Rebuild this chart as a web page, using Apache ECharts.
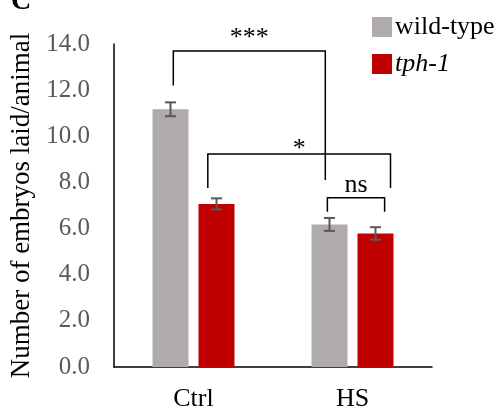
<!DOCTYPE html>
<html><head><meta charset="utf-8">
<script src="https://cdn.jsdelivr.net/npm/echarts@6/dist/echarts.min.js"></script>
<style>html,body{margin:0;padding:0;background:#fff}#c{width:500px;height:413px}</style>
</head><body><div id="c"></div>
<script>
const categories = ['Ctrl', 'HS'];
const seriesNames = ['wild-type', 'tph-1'];
const wildType = [11.17, 6.18];
const tph1 = [7.07, 5.79];
const wildTypeErr = [0.30, 0.28];
const tph1Err = [0.24, 0.27];
const yTicks = [0, 2, 4, 6, 8, 10, 12, 14];
// significance brackets (x in category units relative to 'Ctrl', y in data units)
const bracketLabels = ['***', '*', 'ns'];
const bracketX1 = [-0.127, 0.090, 0.842];
const bracketX2 = [0.829, 1.239, 1.202];
const bracketTop = [13.7, 9.23, 7.34];
const bracketLeftEnd = [12.2, 7.76, 6.73];
const bracketRightEnd = [8.1, 7.76, 6.73];
const bracketLabelY = [14.25, 9.45, 7.89];

const FONT = '"Liberation Serif","Times New Roman",serif';
const BAR_W = 36, BAR_GAP = 10;
const colors = ['#AFABAB', '#C00000'];

function errSeries(vals, errs, idx) {
  const off = (idx === 0 ? -1 : 1) * (BAR_W + BAR_GAP) / 2;
  return {
    type: 'custom', z: 5, silent: true,
    data: vals.map((v, i) => [i, v, errs[i]]),
    renderItem: function (params, api) {
      const i = api.value(0), v = api.value(1), e = api.value(2);
      const hi = api.coord([i, v + e]), lo = api.coord([i, v - e]);
      const x = hi[0] + off, cw = 5.5;
      const st = { stroke: '#595959', lineWidth: 2 };
      return { type: 'group', children: [
        { type: 'line', shape: { x1: x, y1: hi[1], x2: x, y2: lo[1] }, style: st },
        { type: 'line', shape: { x1: x - cw, y1: hi[1], x2: x + cw, y2: hi[1] }, style: st },
        { type: 'line', shape: { x1: x - cw, y1: lo[1], x2: x + cw, y2: lo[1] }, style: st }
      ]};
    }
  };
}

const bracketData = bracketLabels.map((l, i) => [i, bracketX1[i], bracketX2[i], bracketTop[i], bracketLeftEnd[i], bracketRightEnd[i], bracketLabelY[i]]);

const chart = echarts.init(document.getElementById('c'), null, { renderer: 'canvas' });
chart.setOption({
  animation: false,
  backgroundColor: '#fff',
  textStyle: { fontFamily: FONT },
  grid: { left: 110, right: 68, top: 44, bottom: 46 },
  legend: {
    orient: 'vertical', left: 367, top: 9, itemWidth: 20, itemHeight: 20, itemGap: 11,
    icon: 'rect',
    data: seriesNames,
    textStyle: { fontFamily: FONT, fontSize: 26, color: '#000', padding: [0, 0, 0, -2],
      rich: { i: { fontFamily: FONT, fontSize: 26, fontStyle: 'italic', color: '#000' } } },
    formatter: n => n === 'tph-1' ? '{i|' + n + '}' : n
  },
  xAxis: {
    type: 'category', data: categories,
    axisLine: { lineStyle: { color: '#000', width: 1.5 } },
    axisTick: { show: false },
    axisLabel: { fontFamily: FONT, fontSize: 26, color: '#000', margin: 19 }
  },
  yAxis: {
    type: 'value', min: 0, max: 14, interval: 2,
    name: 'Number of embryos laid/animal', nameLocation: 'middle', nameGap: 79,
    nameTextStyle: { fontFamily: FONT, fontSize: 27, color: '#000' },
    axisLine: { show: true, lineStyle: { color: '#000', width: 1.5 } },
    axisTick: { show: false },
    splitLine: { show: false },
    axisLabel: { fontFamily: FONT, fontSize: 25, color: '#595959', margin: 24,
      formatter: v => yTicks.indexOf(v) >= 0 ? v.toFixed(1) : '' }
  },
  series: [
    { name: seriesNames[0], type: 'bar', data: wildType, barWidth: BAR_W, barGap: (BAR_GAP / BAR_W * 100) + '%', itemStyle: { color: colors[0] } },
    { name: seriesNames[1], type: 'bar', data: tph1, barWidth: BAR_W, itemStyle: { color: colors[1] } },
    errSeries(wildType, wildTypeErr, 0),
    errSeries(tph1, tph1Err, 1),
    {
      type: 'custom', z: 6, silent: true,
      data: bracketData,
      renderItem: function (params, api) {
        const i = api.value(0);
        const c0 = api.coord([0, 0]);
        const bw = api.size([1, 0])[0];
        const x1 = c0[0] + api.value(1) * bw, x2 = c0[0] + api.value(2) * bw;
        const yT = api.coord([0, api.value(3)])[1];
        const yL = api.coord([0, api.value(4)])[1];
        const yR = api.coord([0, api.value(5)])[1];
        const yLab = api.coord([0, api.value(6)])[1];
        const st = { stroke: '#000', lineWidth: 1.5, fill: null };
        return { type: 'group', children: [
          { type: 'polyline', shape: { points: [[x1, yL], [x1, yT], [x2, yT], [x2, yR]] }, style: st },
          { type: 'text', style: { text: bracketLabels[i], x: (x1 + x2) / 2, y: yLab, align: 'center', verticalAlign: 'middle',
            fontFamily: FONT, fontSize: 26, fill: '#000' } }
        ]};
      }
    }
  ],
  graphic: [
    { type: 'text', left: 11, top: -12, style: { text: 'C', fontFamily: FONT, fontSize: 28, fontWeight: 'bold', fill: '#000' } }
  ]
});
</script></body></html>
